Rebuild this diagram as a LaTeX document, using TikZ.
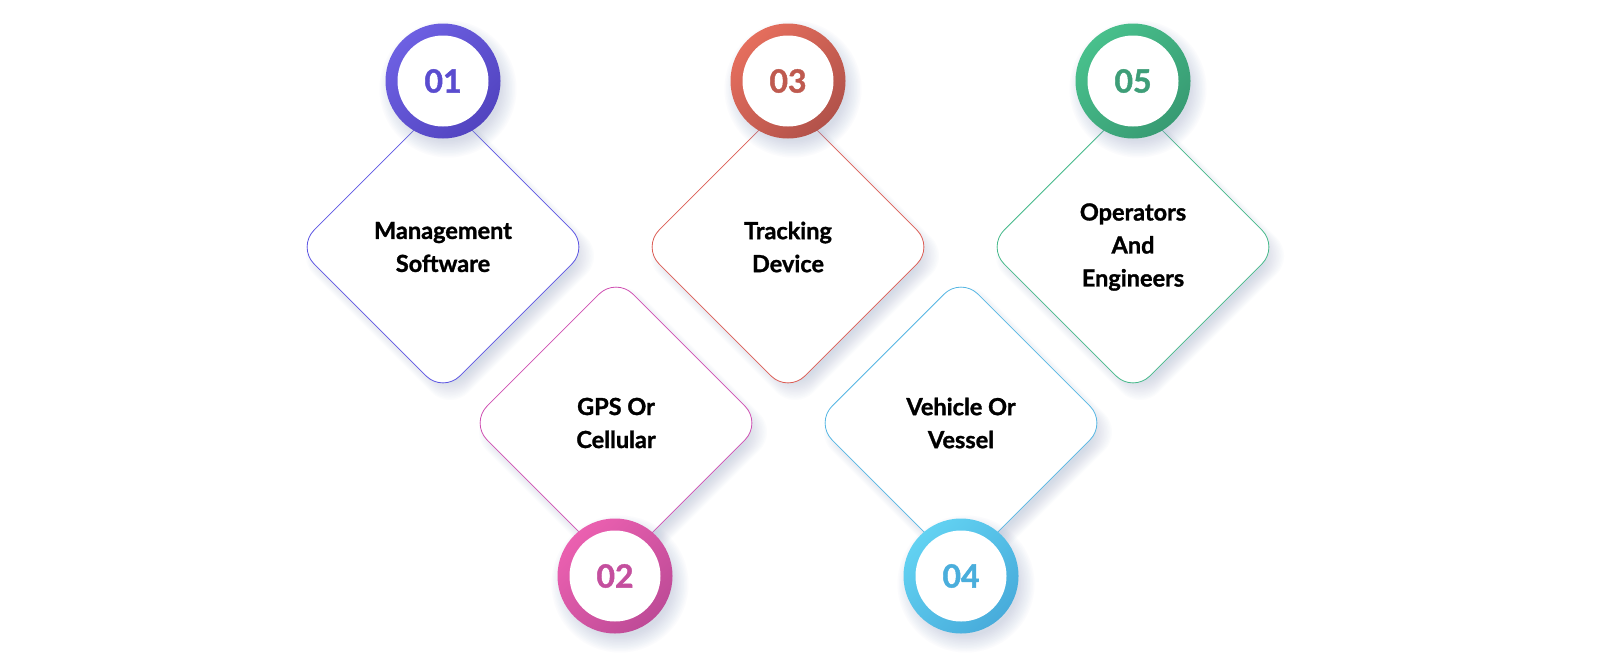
\documentclass[tikz,border=0pt]{standalone}
\usepackage{fontspec}
\setmainfont{Lato}[BoldFeatures={FakeBold=1.3}]
\usetikzlibrary{shapes.geometric}
\definecolor{shad}{HTML}{9AA8CC}
\definecolor{bA}{HTML}{5C55E3}\definecolor{lA}{HTML}{6D60E2}\definecolor{dA}{HTML}{5244C0}\definecolor{tA}{HTML}{5A4CCF}
\definecolor{bB}{HTML}{CF4FB2}\definecolor{lB}{HTML}{EB60B0}\definecolor{dB}{HTML}{BE4B97}\definecolor{tB}{HTML}{C44F9E}
\definecolor{bC}{HTML}{DC5C54}\definecolor{lC}{HTML}{E56E5D}\definecolor{dC}{HTML}{B2524A}\definecolor{tC}{HTML}{BF5A4F}
\definecolor{bD}{HTML}{55B6E3}\definecolor{lD}{HTML}{62D2F2}\definecolor{dD}{HTML}{48ACDB}\definecolor{tD}{HTML}{4AAEDC}
\definecolor{bE}{HTML}{45B98A}\definecolor{lE}{HTML}{48C08C}\definecolor{dE}{HTML}{389B73}\definecolor{tE}{HTML}{3E9E78}
\tikzset{
  dbox/.style={shape=diamond, aspect=1, minimum width=292pt, minimum height=292pt,
    inner sep=0pt, rounded corners=24pt, fill=white, draw=#1, line width=0.8pt,
    align=center, font=\fontsize{23.5}{33}\selectfont\bfseries, text=black},
  ring/.style n args={2}{circle, minimum size=115pt, inner sep=0pt,
    top color=#1, bottom color=#2, shading angle=45},
  hole/.style={circle, minimum size=91pt, inner sep=0pt, fill=white,
    text=#1, font=\fontsize{32}{32}\selectfont\bfseries},
}
\newcommand\dshadow[2]{%
  \foreach \i in {0,...,13}{%
    \pgfmathsetmacro\hh{134+1.6*\i}%
    \fill[shad, opacity=0.032, rounded corners=26pt]
      (#1+7,#2+9-\hh) -- (#1+7+\hh,#2+9) -- (#1+7,#2+9+\hh) -- (#1+7-\hh,#2+9) -- cycle;}}
\newcommand\cshadow[2]{%
  \foreach \i in {0,...,11}{%
    \fill[shad, opacity=0.035] (#1+5,#2+8) circle ({52+1.5*\i});}}
\begin{document}
\begin{tikzpicture}[x=1pt,y=-1pt]
\fill[white] (0,0) rectangle (1600,654);
\useasboundingbox (0,0) rectangle (1600,654);
% diamond shadows
\dshadow{443}{247}
\dshadow{616}{423}
\dshadow{788}{247}
\dshadow{961}{423}
\dshadow{1133}{247}
% diamonds
\node[dbox=bA] (d1) at (443,247) {Management\\Software};
\node[dbox=bB] (d2) at (616,423) {GPS Or\\Cellular};
\node[dbox=bC] (d3) at (788,247) {Tracking\\Device};
\node[dbox=bD] (d4) at (961,423) {Vehicle Or\\Vessel};
\node[dbox=bE] (d5) at (1133,247) {Operators\\And\\Engineers};
% circle shadows
\cshadow{443}{81}
\cshadow{615}{576}
\cshadow{788}{81}
\cshadow{961}{576}
\cshadow{1133}{81}
% rings
\node[ring={lA}{dA}] (r1) at (443,81) {};
\node[ring={lB}{dB}] (r2) at (615,576) {};
\node[ring={lC}{dC}] (r3) at (788,81) {};
\node[ring={lD}{dD}] (r4) at (961,576) {};
\node[ring={lE}{dE}] (r5) at (1133,81) {};
\node[hole=tA] (n1) at (r1) {01};
\node[hole=tB] (n2) at (r2) {02};
\node[hole=tC] (n3) at (r3) {03};
\node[hole=tD] (n4) at (r4) {04};
\node[hole=tE] (n5) at (r5) {05};
\end{tikzpicture}
\end{document}
